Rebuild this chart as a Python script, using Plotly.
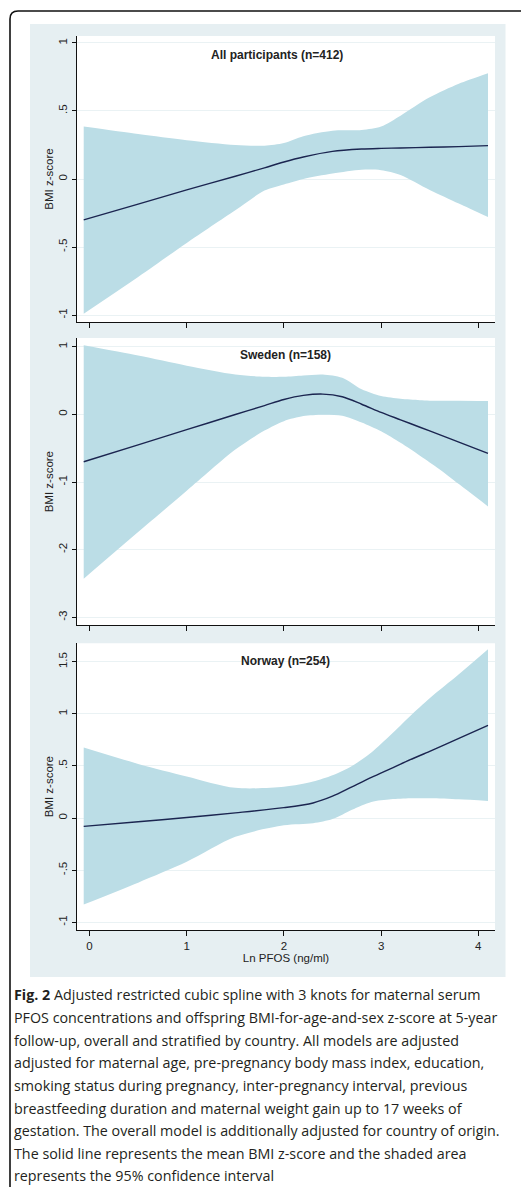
import plotly.graph_objects as go

W, H = 521, 1187

# ---- data: restricted cubic spline estimates (mean and 95% CI) ----
x_all = [-0.06, 0.5, 1.0, 1.5, 1.8, 2.0, 2.2, 2.5, 2.8, 3.0, 3.2, 3.5, 3.8, 4.1]
mean_all = [-0.30, -0.185, -0.08, 0.02, 0.082, 0.125, 0.162, 0.203, 0.22, 0.225, 0.228, 0.233, 0.238, 0.245]
upper_all = [0.385, 0.33, 0.285, 0.25, 0.245, 0.265, 0.315, 0.355, 0.36, 0.385, 0.465, 0.60, 0.70, 0.777]
lower_all = [-0.99, -0.72, -0.47, -0.23, -0.085, -0.04, 0.0, 0.04, 0.068, 0.065, 0.03, -0.08, -0.18, -0.28]

x_swe = [-0.06, 0.5, 1.0, 1.5, 1.8, 2.0, 2.2, 2.4, 2.6, 2.8, 3.0, 3.2, 3.4, 3.6, 3.8, 4.1]
mean_swe = [-0.70, -0.45, -0.226, -0.002, 0.13, 0.22, 0.28, 0.30, 0.26, 0.15, 0.03, -0.08, -0.19, -0.30, -0.41, -0.576]
upper_swe = [1.02, 0.87, 0.72, 0.59, 0.555, 0.555, 0.575, 0.59, 0.54, 0.37, 0.27, 0.23, 0.21, 0.20, 0.20, 0.196]
lower_swe = [-2.43, -1.74, -1.13, -0.52, -0.24, -0.10, -0.025, -0.005, -0.02, -0.12, -0.25, -0.42, -0.61, -0.81, -1.03, -1.36]

x_nor = [-0.06, 0.5, 1.0, 1.5, 2.0, 2.3, 2.5, 2.7, 2.9, 3.1, 3.3, 3.5, 3.8, 4.1]
mean_nor = [-0.08, -0.035, 0.005, 0.05, 0.10, 0.145, 0.21, 0.30, 0.39, 0.475, 0.56, 0.64, 0.765, 0.89]
upper_nor = [0.677, 0.52, 0.40, 0.29, 0.30, 0.35, 0.41, 0.50, 0.63, 0.80, 0.98, 1.15, 1.38, 1.62]
lower_nor = [-0.83, -0.62, -0.42, -0.18, -0.07, -0.05, -0.01, 0.08, 0.155, 0.18, 0.19, 0.19, 0.18, 0.165]

panel_titles = ["All participants (n=412)", "Sweden (n=158)", "Norway (n=254)"]

ytick_all = [-1, -0.5, 0, 0.5, 1]
ylab_all = ["-1", "-.5", "0", ".5", "1"]
ytick_swe = [-3, -2, -1, 0, 1]
ylab_swe = ["-3", "-2", "-1", "0", "1"]
ytick_nor = [-1, -0.5, 0, 0.5, 1, 1.5]
ylab_nor = ["-1", "-.5", "0", ".5", "1", "1.5"]
xticks = [0, 1, 2, 3, 4]
xlabels = ["0", "1", "2", "3", "4"]

y_title = "BMI z-score"
x_title = "Ln PFOS (ng/ml)"

caption_lines = [
    "<b>Fig. 2</b> Adjusted restricted cubic spline with 3 knots for maternal serum",
    "PFOS concentrations and offspring BMI-for-age-and-sex z-score at 5-year",
    "follow-up, overall and stratified by country. All models are adjusted",
    "adjusted for maternal age, pre-pregnancy body mass index, education,",
    "smoking status during pregnancy, inter-pregnancy interval, previous",
    "breastfeeding duration and maternal weight gain up to 17 weeks of",
    "gestation. The overall model is additionally adjusted for country of origin.",
    "The solid line represents the mean BMI z-score and the shaded area",
    "represents the 95% confidence interval",
]

# ---- styling ----
CI_FILL = "rgb(187,221,230)"
LINE_COL = "#1b2550"
GRID_COL = "#eaf2f4"
REGION_COL = "#e6eff2"
AX_FONT = dict(family="Liberation Sans, Arial, sans-serif", size=11.5, color="#222")


def px_x(p):
    return p / W


def px_y(p):
    return 1 - p / H


panels = [
    dict(x=x_all, m=mean_all, u=upper_all, l=lower_all, ticks=ytick_all, labs=ylab_all,
         top=36, bot=322, rng=[-1.051, 1.051], title_x=277, title_y=55),
    dict(x=x_swe, m=mean_swe, u=upper_swe, l=lower_swe, ticks=ytick_swe, labs=ylab_swe,
         top=338, bot=625.3, rng=[-3.118, 1.129], title_x=285, title_y=355),
    dict(x=x_nor, m=mean_nor, u=upper_nor, l=lower_nor, ticks=ytick_nor, labs=ylab_nor,
         top=643.3, bot=930, rng=[-1.074, 1.677], title_x=285, title_y=661),
]

fig = go.Figure()
layout = dict(
    width=W, height=H,
    margin=dict(l=0, r=0, t=0, b=0),
    paper_bgcolor="white",
    plot_bgcolor="rgba(0,0,0,0)",
    showlegend=False,
    shapes=[],
    annotations=[],
)

x_left, x_right = 77, 495
x_dom = [px_x(x_left), px_x(x_right)]
x_rng = [-0.129, 4.172]

# light graph region behind the three panels
layout["shapes"].append(dict(
    type="rect", xref="paper", yref="paper", layer="below",
    x0=px_x(30), x1=px_x(505.5), y0=px_y(977), y1=px_y(24),
    fillcolor=REGION_COL, line=dict(width=0),
))

for i, p in enumerate(panels, start=1):
    xa = "x" if i == 1 else f"x{i}"
    ya = "y" if i == 1 else f"y{i}"

    # white plot region of the panel
    layout["shapes"].append(dict(
        type="rect", xref="paper", yref="paper", layer="below",
        x0=px_x(x_left), x1=px_x(x_right), y0=px_y(p["bot"]), y1=px_y(p["top"]),
        fillcolor="white", line=dict(width=0),
    ))

    fig.add_trace(go.Scatter(x=p["x"], y=p["u"], mode="lines",
                             line=dict(width=0, shape="spline", smoothing=0.8),
                             xaxis=xa, yaxis=ya, hoverinfo="skip"))
    fig.add_trace(go.Scatter(x=p["x"], y=p["l"], mode="lines",
                             line=dict(width=0, shape="spline", smoothing=0.8),
                             fill="tonexty", fillcolor=CI_FILL, xaxis=xa, yaxis=ya, hoverinfo="skip"))
    fig.add_trace(go.Scatter(x=p["x"], y=p["m"], mode="lines",
                             line=dict(width=1.4, color=LINE_COL, shape="spline", smoothing=0.8),
                             xaxis=xa, yaxis=ya))

    last = i == 3
    layout["xaxis" if i == 1 else f"xaxis{i}"] = dict(
        domain=x_dom, range=x_rng, anchor=ya,
        tickmode="array", tickvals=xticks, ticktext=xlabels,
        showticklabels=last, ticks="outside", ticklen=5, tickwidth=1, tickcolor="#111",
        showline=True, linecolor="#111", linewidth=1.2, showgrid=False, zeroline=False,
        tickfont=AX_FONT,
        title=dict(text=x_title if last else "", font=AX_FONT, standoff=2),
    )
    layout["yaxis" if i == 1 else f"yaxis{i}"] = dict(
        domain=[px_y(p["bot"]), px_y(p["top"])], range=p["rng"], anchor=xa,
        tickmode="array", tickvals=p["ticks"], ticktext=p["labs"], tickangle=-90,
        ticks="outside", ticklen=4, tickwidth=1, tickcolor="#111",
        showline=True, linecolor="#111", linewidth=1.2,
        showgrid=True, gridcolor=GRID_COL, gridwidth=1, zeroline=False,
        tickfont=AX_FONT,
        title=dict(text=y_title, font=AX_FONT, standoff=1),
    )
    layout["annotations"].append(dict(
        text=f"<b>{panel_titles[i - 1]}</b>", xref="paper", yref="paper",
        x=px_x(p["title_x"]), y=px_y(p["title_y"]), xanchor="center", yanchor="middle",
        showarrow=False, font=dict(family="Liberation Sans, Arial, sans-serif", size=12, color="#222"),
    ))

# figure frame: left and top border with a rounded corner
r = 8
frame = (f"M {px_x(10)},{px_y(H + 2)} L {px_x(10)},{px_y(11 + r)} "
         f"Q {px_x(10)},{px_y(11)} {px_x(10 + r)},{px_y(11)} L {px_x(W + 2)},{px_y(11)}")
layout["shapes"].append(dict(type="path", xref="paper", yref="paper", path=frame,
                             line=dict(color="#111", width=1.6)))

# caption
cap_font = dict(family="Open Sans, sans-serif", size=14.3, color="#231f20")
for k, line in enumerate(caption_lines):
    layout["annotations"].append(dict(
        text=line, xref="paper", yref="paper", x=px_x(12), y=px_y(995 + k * 22.6),
        xanchor="left", yanchor="middle", showarrow=False, font=cap_font,
    ))

fig.update_layout(**layout)
fig.write_html("out.html")
